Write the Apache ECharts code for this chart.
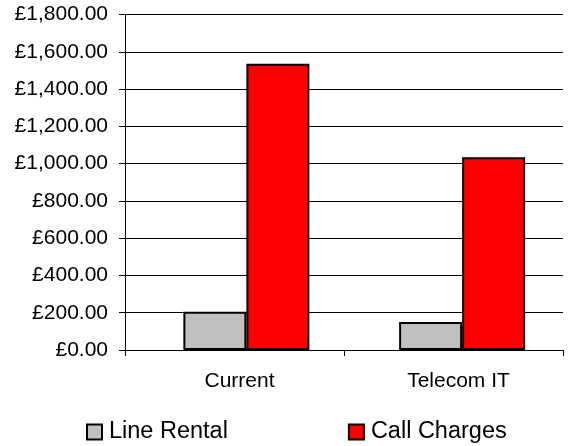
<!DOCTYPE html>
<html>
<head>
<meta charset="utf-8">
<script src="https://cdn.jsdelivr.net/npm/echarts@6/dist/echarts.min.js"></script>
<style>
  html, body { margin: 0; padding: 0; background: #fff; }
  #chart { width: 570px; height: 446px; }
</style>
</head>
<body>
<div id="chart"></div>
<script>
  const categories = ['Current', 'Telecom IT']
  const lineRental = [205, 150]
  const callCharges = [1536, 1034]

  const fmt = (v) => '£' + v.toFixed(2).replace(/\B(?=(\d{3})+(?!\d))/g, ',')

  const chart = echarts.init(document.getElementById('chart'))
  const font = 'Liberation Sans, Arial, sans-serif'

  // grid 0 draws the axes, grid 1 (same size, nudged right) holds the bars
  chart.setOption({
    animation: false,
    textStyle: { fontFamily: font, color: '#000' },
    grid: [
      { left: 125, width: 438, top: 14.5, bottom: 96 },
      { left: 138.5, width: 438, top: 14.5, bottom: 96 }
    ],
    legend: {
      left: 81,
      top: 415,
      itemWidth: 15,
      itemHeight: 15,
      itemGap: 120,
      icon: 'rect',
      textStyle: { fontFamily: font, fontSize: 23.5, color: '#000', padding: [0, 0, 0, 2] },
      data: ['Line Rental', 'Call Charges']
    },
    xAxis: [
      {
        type: 'category',
        gridIndex: 0,
        data: categories,
        axisLine: { lineStyle: { color: '#000', width: 1 } },
        axisTick: { show: true, length: 6, lineStyle: { color: '#000' } },
        axisLabel: { fontSize: 21, color: '#000', margin: 21, fontFamily: font, padding: [0, 0, 0, 10] }
      },
      { type: 'category', gridIndex: 1, data: categories, show: false }
    ],
    yAxis: [
      {
        type: 'value',
        gridIndex: 0,
        min: 0,
        max: 1800,
        interval: 200,
        axisLine: { show: true, lineStyle: { color: '#000', width: 1 } },
        axisTick: { show: true, length: 6, lineStyle: { color: '#000' } },
        splitLine: { show: true, lineStyle: { color: '#000', width: 1 } },
        axisLabel: { fontSize: 21, color: '#000', margin: 17, fontFamily: font, formatter: fmt }
      },
      { type: 'value', gridIndex: 1, min: 0, max: 1800, interval: 200, show: false, splitLine: { show: false } }
    ],
    series: [
      {
        name: 'Line Rental',
        type: 'bar',
        xAxisIndex: 1,
        yAxisIndex: 1,
        data: lineRental,
        barWidth: 63,
        barGap: '0%',
        itemStyle: { color: '#c0c0c0', borderColor: '#000', borderWidth: 2 }
      },
      {
        name: 'Call Charges',
        type: 'bar',
        xAxisIndex: 1,
        yAxisIndex: 1,
        data: callCharges,
        barWidth: 63,
        barGap: '0%',
        itemStyle: { color: '#ff0000', borderColor: '#000', borderWidth: 2 }
      }
    ]
  })
</script>
</body>
</html>
